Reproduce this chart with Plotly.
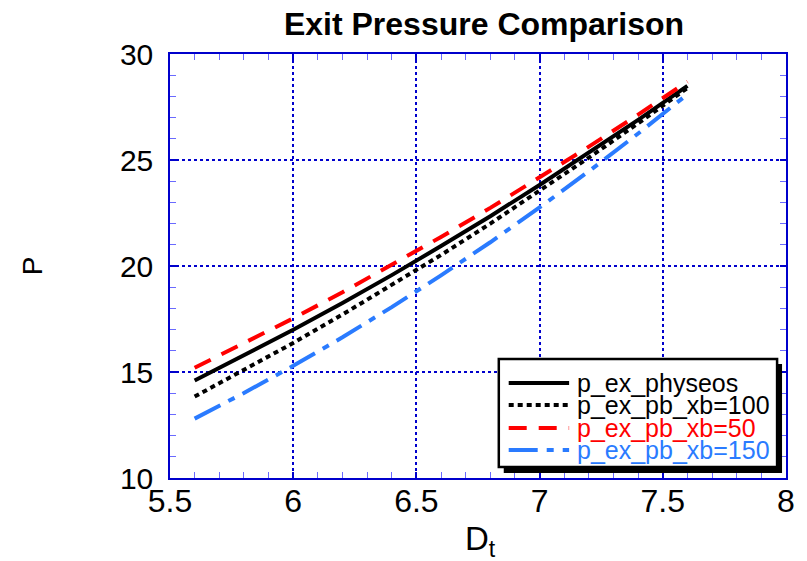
import plotly.graph_objects as go

# Throat diameter samples
d_t = [5.6, 5.8, 6.0, 6.2, 6.4, 6.6, 6.8, 7.0, 7.2, 7.4, 7.6]

# Exit pressure for each model
p_ex_physeos = [14.6, 15.77, 16.99, 18.26, 19.57, 20.94, 22.35, 23.82, 25.33, 26.89, 28.5]
p_ex_pb_xb100 = [13.84, 15.08, 16.37, 17.71, 19.09, 20.52, 22.0, 23.53, 25.11, 26.73, 28.4]
p_ex_pb_xb50 = [15.2, 16.34, 17.53, 18.76, 20.04, 21.37, 22.74, 24.16, 25.63, 27.14, 28.7]
p_ex_pb_xb150 = [12.8, 14.01, 15.29, 16.64, 18.06, 19.56, 21.12, 22.76, 24.47, 26.25, 28.1]

series_names = ["p_ex_physeos", "p_ex_pb_xb=100", "p_ex_pb_xb=50", "p_ex_pb_xb=150"]
series_values = [p_ex_physeos, p_ex_pb_xb100, p_ex_pb_xb50, p_ex_pb_xb150]

x_ticks = [5.5, 6, 6.5, 7, 7.5, 8]
y_ticks = [10, 15, 20, 25, 30]

# Line styles
colors = ["#000000", "#000000", "#ff0000", "#2a7bff"]
dashes = ["solid", "5px,4px", "18px,12px", "29px,9px,7px,9px"]
LINE_W = 4

FONT = "Liberation Sans, Arial, sans-serif"
AX_BLUE = "#0000cc"
MINOR_BLUE = "#6a6aff"

# Figure / plot-area geometry (pixels)
W, H = 807, 561
L, R, T, B = 170, 15, 54, 83
PW, PH = W - L - R, H - T - B


def px(xp):
    return (xp - L) / PW


def py(yp):
    return (H - B - yp) / PH


fig = go.Figure()
for name, vals, c, d in zip(series_names, series_values, colors, dashes):
    fig.add_trace(go.Scatter(
        x=d_t, y=vals, mode="lines", name=name, showlegend=False,
        line=dict(color=c, width=LINE_W, dash=d),
    ))

axis_common = dict(
    ticks="inside", ticklen=6, tickwidth=1.5, tickcolor=AX_BLUE,
    showgrid=True, gridcolor=AX_BLUE, griddash="dot", gridwidth=1.5,
    showline=True, linecolor=AX_BLUE, linewidth=1.5, mirror="allticks",
    zeroline=False,
)

fig.update_xaxes(
    range=[5.5, 8], tickvals=x_ticks, ticktext=[f"{v:g}" for v in x_ticks],
    minor=dict(dtick=0.1, tick0=5.5, ticks="inside", ticklen=6, tickwidth=1, tickcolor=MINOR_BLUE, showgrid=False),
    ticklabelstandoff=-6,
    tickfont=dict(family=FONT, size=32, color="black"),
    **axis_common,
)
fig.update_yaxes(
    range=[10, 30], tickvals=y_ticks, ticktext=[str(v) for v in y_ticks],
    minor=dict(dtick=1, tick0=10, ticks="inside", ticklen=6, tickwidth=1, tickcolor=MINOR_BLUE, showgrid=False),
    ticklabelstandoff=9,
    tickfont=dict(family=FONT, size=30, color="black"),
    **axis_common,
)

# Legend box with drop shadow
shapes = [
    dict(type="rect", xref="paper", yref="paper", layer="above",
         x0=px(507), x1=px(788), y0=py(364), y1=py(473),
         fillcolor="black", line=dict(width=0)),
    dict(type="rect", xref="paper", yref="paper", layer="above",
         x0=px(502), x1=px(783), y0=py(359), y1=py(467),
         fillcolor="white", line=dict(color="black", width=2.5)),
]
annotations = []
row_y = [383, 405, 428, 450]
for name, c, d, ry in zip(series_names, colors, dashes, row_y):
    shapes.append(dict(type="line", xref="paper", yref="paper", layer="above",
                       x0=px(512), x1=px(573), y0=py(ry), y1=py(ry),
                       line=dict(color=c, width=LINE_W, dash=d)))
    annotations.append(dict(xref="paper", yref="paper", x=px(579), y=py(ry),
                            xanchor="left", yanchor="middle", showarrow=False,
                            text=name, font=dict(family=FONT, size=25, color=c)))

# Axis titles
annotations.append(dict(xref="paper", yref="paper", x=px(484), y=py(541),
                        xanchor="center", yanchor="middle", showarrow=False,
                        text="D<sub>t</sub>", font=dict(family=FONT, size=33, color="black")))
annotations.append(dict(xref="paper", yref="paper", x=px(31), y=py(266),
                        xanchor="center", yanchor="middle", showarrow=False, textangle=-90,
                        text="P", font=dict(family=FONT, size=28, color="black")))

fig.update_layout(
    width=W, height=H, autosize=False,
    margin=dict(l=L, r=R, t=T, b=B),
    paper_bgcolor="white", plot_bgcolor="white",
    title=dict(text="<b>Exit Pressure Comparison</b>", x=484 / W, y=1 - 24 / H,
               xanchor="center", yanchor="middle",
               font=dict(family=FONT, size=32, color="black")),
    shapes=shapes, annotations=annotations,
)

fig.write_html("out.html")
